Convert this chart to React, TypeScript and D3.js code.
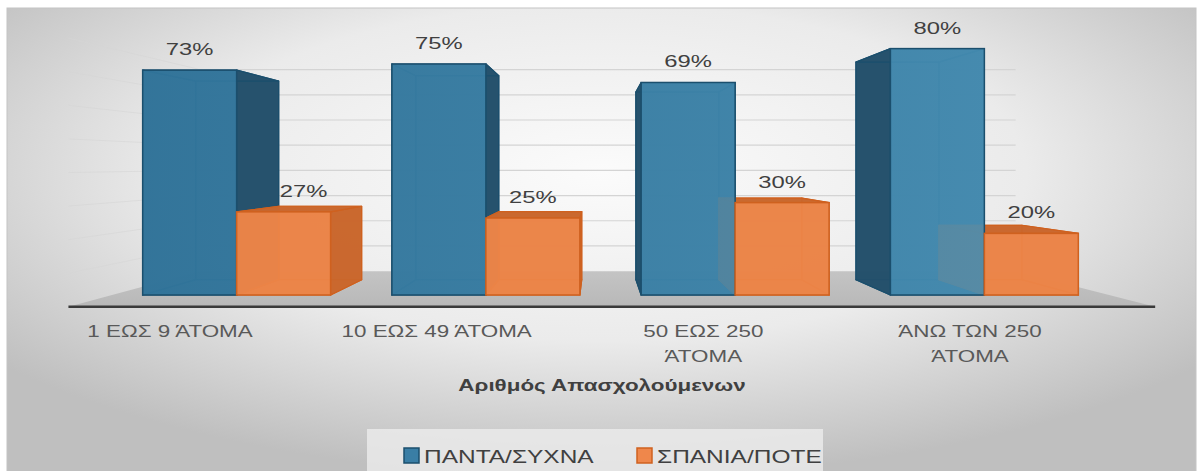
import React from 'react';
import * as d3 from 'd3';

// chart data
const categories = ['1 ΕΩΣ 9 ΆΤΟΜΑ', '10 ΕΩΣ 49 ΆΤΟΜΑ', '50 ΕΩΣ 250 ΆΤΟΜΑ', 'ΆΝΩ ΤΩΝ 250 ΆΤΟΜΑ'];
const categoryLines = [['1 ΕΩΣ 9 ΆΤΟΜΑ'], ['10 ΕΩΣ 49 ΆΤΟΜΑ'], ['50 ΕΩΣ 250', 'ΆΤΟΜΑ'], ['ΆΝΩ ΤΩΝ 250', 'ΆΤΟΜΑ']];
const seriesNames = ['ΠΑΝΤΑ/ΣΥΧΝΑ', 'ΣΠΑΝΙΑ/ΠΟΤΕ'];
const pantaSyxna = [73, 75, 69, 80];
const spaniaPote = [27, 25, 30, 20];
const gridTicks = [10, 20, 30, 40, 50, 60, 70, 80];
const axisTitle = 'Αριθμός Απασχολούμενων';

const W = 1202;
const H = 471;
// perspective: vanishing point and depth factors
const VP = { x: 596, y: 164 };
const K_BACK = 0.883;
const K_WALL = 0.818;
const K_FLOOR = 1.09;
const SX = 1.4; // text looks stretched wide in the source

const colors = {
  front: ['url(#blueFront)', '#ef874b'],
  swatch: ['#3a7ea5', '#ef874b'],
  side: ['#23506b', '#c9662c'],
  stroke: ['#1b4f6d', '#cf611f'],
};

const x0 = d3.scaleBand<string>().domain(categories).range([112, 1109]).paddingInner(0.246).paddingOuter(0.123);
const x1 = d3.scaleBand<string>().domain(seriesNames).range([0, x0.bandwidth()]);
const y = d3.scaleLinear().domain([0, 100]).range([295, -13]);
const labelX = d3.scalePoint<string>().domain(categories).range([170, 970]);

const project = (x: number, yv: number, k: number) => [VP.x + (x - VP.x) * k, VP.y + (yv - VP.y) * k];
const poly = (pts: number[][]) => pts.map((p) => p.join(',')).join(' ');

type Bar = { cat: number; s: number; v: number; xa: number; xb: number; yt: number; yb: number };

const bars: Bar[] = [];
categories.forEach((c, i) => {
  [pantaSyxna, spaniaPote].forEach((arr, s) => {
    const xa = (x0(c) || 0) + (x1(seriesNames[s]) || 0);
    bars.push({ cat: i, s, v: arr[i], xa, xb: xa + x1.bandwidth(), yt: y(arr[i]), yb: y(0) });
  });
});

function innerFaces(b: Bar) {
  const { xa, xb, yt, yb } = b;
  const f = 1;
  const k = K_BACK;
  return [
    [project(xa, yt, k), project(xb, yt, k), project(xb, yb, k), project(xa, yb, k)],
    [project(xa, yb, f), project(xb, yb, f), project(xb, yb, k), project(xa, yb, k)],
    [project(xa, yt, f), project(xa, yt, k), project(xa, yb, k), project(xa, yb, f)],
    [project(xb, yt, f), project(xb, yt, k), project(xb, yb, k), project(xb, yb, f)],
    [project(xa, yt, f), project(xb, yt, f), project(xb, yt, k), project(xa, yt, k)],
  ];
}

function Label({ x, y: yy, text, size, weight, fill, anchor = 'middle' }: any) {
  return (
    <text
      transform={`translate(${x},${yy}) scale(${SX},1)`}
      textAnchor={anchor}
      fontSize={size}
      fontWeight={weight || 400}
      fill={fill}
      fontFamily="'Liberation Sans', Arial, sans-serif"
    >
      {text}
    </text>
  );
}

export default function App() {
  const floorL = x0.range()[0];
  const floorR = x0.range()[1];
  const floor = [
    project(floorL, y(0), K_WALL),
    project(floorR, y(0), K_WALL),
    project(floorR, y(0), K_FLOOR),
    project(floorL, y(0), K_FLOOR),
  ];
  const frontL = project(floorL, y(0), K_FLOOR);
  const frontR = project(floorR, y(0), K_FLOOR);

  const valueLabels = bars.map((b) => {
    let cx = (b.xa + b.xb) / 2;
    const ly = b.yt - 15;
    if (b.s === 1) {
      // keep the label clear of the blue bar's side
      const blue = bars.find((o) => o.cat === b.cat && o.s === 0)!;
      const blueRight = Math.max(blue.xb, project(blue.xb, ly, K_BACK)[0]);
      const half = 25;
      if (cx - half < blueRight) cx = blueRight + half;
    }
    return { cx, ly, text: `${b.v}%`, key: `${b.cat}-${b.s}` };
  });

  const legendItems = [
    { name: seriesNames[0], sx: 404, color: 0 },
    { name: seriesNames[1], sx: 637, color: 1 },
  ];

  return (
    <svg width={W} height={H} style={{ position: 'absolute', left: 0, top: 0 }}>
      <defs>
        <radialGradient id="bg" cx="50%" cy="35%" r="65%">
          <stop offset="0" stopColor="#fbfbfb" />
          <stop offset="0.55" stopColor="#ebebeb" />
          <stop offset="1" stopColor="#bfbfbf" />
        </radialGradient>
        <linearGradient id="floorGrad" x1="0" x2="0" y1="0" y2="1">
          <stop offset="0" stopColor="#c4c4c4" />
          <stop offset="1" stopColor="#b8b8b8" />
        </linearGradient>
        <linearGradient id="blueFront" gradientUnits="userSpaceOnUse" x1={140} x2={990} y1={0} y2={0}>
          <stop offset="0" stopColor="#32779e" />
          <stop offset="1" stopColor="#4790b6" />
        </linearGradient>
      </defs>
      <rect x={0} y={0} width={W} height={H} fill="#fff" />
      <rect x={7} y={8} width={1189} height={470} fill="url(#bg)" stroke="#c4c4c4" />

      {/* left wall grid lines */}
      {gridTicks.map((t) => {
        const a = project(floorL, y(t), K_WALL);
        const b = project(floorL, y(t), K_FLOOR);
        return <line key={'lw' + t} x1={a[0]} y1={a[1]} x2={b[0]} y2={b[1]} stroke="#d6d6d6" strokeOpacity={0.6} />;
      })}
      {/* back wall grid lines */}
      {gridTicks.map((t) => {
        const a = project(floorL, y(t), K_WALL);
        const b = project(floorR, y(t), K_WALL);
        return <line key={'bw' + t} x1={a[0]} y1={a[1]} x2={b[0]} y2={b[1]} stroke="#d4d4d4" strokeWidth={1.2} />;
      })}

      <polygon points={poly(floor)} fill="url(#floorGrad)" />
      <line x1={frontL[0]} y1={frontL[1]} x2={frontR[0]} y2={frontR[1]} stroke="#3a3a3a" strokeWidth={2.5} />

      {/* hidden / side faces of every bar first */}
      {bars.map((b) => (
        <g key={'in' + b.cat + b.s}>
          {innerFaces(b).map((f, j) => (
            <polygon
              key={j}
              points={poly(f)}
              fill={colors.side[b.s]}
              fillOpacity={0.88}
              stroke={colors.stroke[b.s]}
              strokeWidth={1.2}
              strokeLinejoin="round"
            />
          ))}
        </g>
      ))}
      {/* front faces */}
      {bars.map((b) => (
        <rect
          key={'fr' + b.cat + b.s}
          x={b.xa}
          y={b.yt}
          width={b.xb - b.xa}
          height={b.yb - b.yt}
          fill={colors.front[b.s]}
          fillOpacity={0.88}
          stroke={colors.stroke[b.s]}
          strokeWidth={1.5}
        />
      ))}

      {valueLabels.map((l) => (
        <Label key={l.key} x={l.cx} y={l.ly} text={l.text} size={17} fill="#404040" />
      ))}

      {categories.map((c, i) =>
        categoryLines[i].map((line, j) => (
          <Label key={c + j} x={labelX(c)} y={337 + j * 25} text={line} size={16} fill="#595959" />
        ))
      )}

      <Label x={602} y={391} text={axisTitle} size={16} weight={700} fill="#404040" />

      <rect x={367} y={429} width={456} height={50} fill="#ececec" fillOpacity={0.8} />
      {legendItems.map((it) => (
        <g key={it.name}>
          <rect x={it.sx} y={448} width={15} height={15} fill={colors.swatch[it.color]} stroke={colors.stroke[it.color]} strokeWidth={1.5} />
          <Label x={it.sx + 20} y={463} text={it.name} size={17.5} fill="#404040" anchor="start" />
        </g>
      ))}
    </svg>
  );
}
